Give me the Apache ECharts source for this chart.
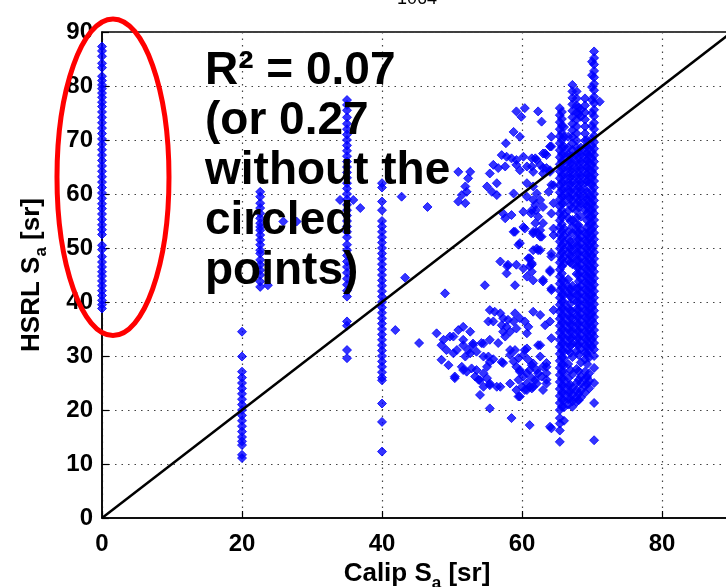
<!DOCTYPE html>
<html>
<head>
<meta charset="utf-8">
<script src="https://cdn.jsdelivr.net/npm/echarts@6/dist/echarts.min.js"></script>
<style>
  html, body { margin: 0; padding: 0; background: #fff; }
  #chart { width: 726px; height: 587px; }
</style>
</head>
<body>
<div id="chart"></div>
<script>
// columns of points (x fixed, y listed)
var col0Y = [87.3, 86.5, 85.5, 84.2, 83.4, 81.8, 81, 80.2, 79.5, 78.7, 77.9, 77, 76.2, 75.2, 74.2, 73.2, 72.2,
  71.2, 70.2, 69.2, 68.2, 67.2, 66.2, 65.2, 64.2, 63.2, 62.2, 61.2, 60.2, 59.2, 58.2, 57.3, 56.3, 55.3, 54.3,
  53.4, 52.5, 50.5, 49.7, 48.4, 47.4, 46.5, 45.6, 44.8, 43.9, 43, 42.1, 41.2, 40.3, 39.5, 38.8];
var col20Y = [34.5, 29.9, 27.1, 26, 25, 24, 23, 22, 21, 20, 19, 18, 17, 16, 15, 14.2, 13.5, 11.7, 11.1];
var col22Y = [60.4, 59.5, 58.3, 57.4, 56.4, 55.5, 54.6, 53.9, 53.3, 52.4, 51.5, 50.6, 49.6, 49, 47.8, 46.9,
  45.9, 45, 43.8, 42.8];
var col35Y = [77.4, 76.5, 75.5, 74.2, 73, 72, 71, 70, 69, 68, 67, 66, 65, 64, 63, 62, 61, 60, 59, 58, 57, 56,
  55, 54, 53, 52, 50.6, 49.6, 48.6, 47.5, 46.5, 45.4, 44.3, 43.2, 42.1, 41, 36.4, 35.6, 31.1, 29.6];
var col40Y = [62, 61.2, 58.6, 57, 55, 54, 53, 52, 51, 50, 49, 48, 47, 46, 45, 44, 43, 42, 41, 40, 39, 38, 37,
  36, 35, 34, 33, 32, 31, 30, 29, 28, 27, 26, 25.5, 21.2, 17.8, 12.3];

// the dense band between 65 and 70
var bandX = [65.4, 66.0, 66.6, 67.2, 67.8, 68.4, 69.0, 69.6, 70.3, 65.7, 66.9, 68.1, 69.3, 70.0];
var bandY = [
  [75.9, 74.6, 73.3, 72, 70.7, 69.4, 68.1, 66.8, 65.5, 64.2, 62.9, 61.6, 60.3, 59, 57.7, 56.4, 55.1, 53.8, 52.5,
    51.2, 49.9, 48.6, 47.3, 46, 44.7, 43.4, 42.1, 40.8, 39.5, 38.2, 36.9, 35.6, 34.3, 33, 31.7, 30.4, 29.1,
    27.8, 26.5, 25.2, 23.9, 22.6, 21.3, 20, 18.5, 17.5, 16.2, 14.1],
  [72.4, 70.6, 68.8, 67.5, 66.2, 64.9, 63.6, 62.3, 61, 59.7, 58.4, 56.2, 53.6, 52.3, 51, 49.7, 48.4, 47.1,
    43.9, 42.6, 41.3, 40, 38.7, 37.4, 36.1, 34.8, 33.5, 32.2, 30.9, 29.6, 28.3, 27, 25.7, 24.4, 23.1, 21.8,
    20.5, 18],
  [70.6, 68.6, 67.3, 66, 64.7, 63.4, 62.1, 60.8, 59.5, 56.9, 55.6, 53, 51.7, 50.4, 49.1, 47.8, 44.2, 42.9,
    41.6, 38.9, 37.6, 36.3, 35, 33.7, 32.4, 31.1, 28.5, 25.9, 24.6, 23.3, 22, 21],
  [80.2, 79, 77.8, 76.6, 75.4, 74.2, 73, 71.8, 70.6, 69.4, 68.2, 67, 65.8, 64.6, 63.4, 62.2, 61, 59.8, 58.6,
    57.4, 55.2, 54, 52.8, 50.6, 49.4, 48.2, 47, 43, 41.8, 40.6, 38.2, 37, 35.8, 34.6, 33.4, 32.2, 29.8, 26.6,
    24, 22.8, 21.6, 20.6],
  [79, 77.7, 76.4, 75.1, 73.8, 72.5, 71.2, 69.9, 68.6, 67.3, 66, 64.7, 63.4, 62.1, 60.8, 59.5, 58.2, 56.9,
    55.6, 54.3, 53, 51.7, 50.4, 49.1, 47.8, 46.5, 45.2, 42.6, 41.3, 40, 38.7, 37.4, 36.1, 34.8, 33.5, 32.2,
    30.9, 27.6, 25, 23.7, 22.4, 21.5],
  [75.6, 74.3, 68.6, 67.3, 66, 64.7, 63.4, 62.1, 60.8, 59.5, 58.2, 55.8, 53.4, 52.1, 50.8, 49.5, 48.2, 46.9,
    45.6, 44.3, 43, 41.7, 40.4, 39.1, 37.8, 36.5, 35.2, 33.9, 32.6, 31.3, 28.8, 26.2, 24.9, 23.6, 22.3],
  [77.7, 76.4, 75.1, 73.8, 72.5, 71.2, 69.9, 68.6, 67.3, 66, 64.7, 63.4, 62.1, 60.8, 59.5, 58.2, 57, 52.8,
    51.5, 50.2, 48.9, 47.6, 46.3, 45, 43.7, 42.4, 41.1, 39.8, 38.5, 37.2, 35.9, 34.6, 33.3, 32, 30.7, 29.4,
    27.1, 25.8, 24.5, 23.2],
  [68.4, 67.1, 65.8, 64.5, 63.2, 62, 59.6, 58.3, 57, 55.7, 54.4, 53.1, 51.8, 50.5, 49.2, 47.9, 46.6, 45.3, 44,
    42.7, 41.4, 40.1, 38.8, 37.5, 36.2, 34.9, 33.6, 32.3, 31, 29.7, 26.8, 25.4, 24],
  [86.4, 85.2, 84, 82.8, 81.6, 80.4, 79.2, 78, 76.8, 75.6, 74.4, 73.2, 72, 70.8, 69.6, 68.4, 67.2, 66, 64.8,
    63.6, 62.4, 61.2, 60, 58.8, 57.6, 56.4, 55.2, 54, 52.8, 51.6, 50.4, 49.2, 48, 46.8, 45.6, 44.4, 43.2, 42,
    40.8, 39.6, 38.4, 37.2, 36, 34.8, 33.6, 32.4, 31.2, 30, 27.8, 25, 21.3, 14.4],
  [75.2, 73.9, 72.6, 71.3, 70, 68.7, 67.4, 66.1, 64.8, 63.5, 62.2, 60.9, 59.6, 58.3, 57, 55.7, 54.4, 53.1,
    51.8, 50.5, 49.2, 47.9, 46.6, 45.3, 44, 42.7, 41.4, 40.1, 38.8, 37.5, 36.2, 34.9, 33.6, 32.3, 31, 29.7,
    28.4, 27.1, 25.8, 24.5, 23.2, 21.9, 20.6],
  [67, 65.7, 64.4, 63.1, 61.8, 60.5, 59.2, 57.9, 55, 51.2, 49.9, 48.6, 47.3, 42.3, 41, 39.7, 38.4, 37.1, 35.8,
    34.5, 33.2, 31.9, 30.6, 27.4, 24.7, 23.4, 22.1],
  [76, 74.8, 67.9, 66.6, 65.3, 64, 62.7, 61.4, 60.1, 58.8, 57.5, 54.2, 52.9, 51.6, 50.3, 49, 47.7, 46.4, 45.1,
    43.8, 42.5, 41.2, 39.9, 38.6, 37.3, 36, 34.7, 33.4, 32.1, 30.2, 27.2, 25.6, 23, 21.8],
  [70, 68.8, 67.5, 66.2, 64.9, 63.6, 62.3, 60.4, 59, 57.7, 56.4, 55.1, 53.8, 52.5, 51.2, 49.9, 48.6, 47.3, 46,
    44.7, 43.4, 42.1, 40.8, 39.5, 38.2, 36.9, 35.6, 34.3, 33, 31.7, 30.4, 28.5, 26.1, 24.8],
  [84.5, 82, 79.8, 77.4, 75, 72.6, 70.2, 69, 67.8, 66.6, 65.4, 64.2, 63, 61.8, 60.6, 59.4, 58.2, 57, 55.8, 54.6,
    53.4, 52.2, 51, 49.8, 48.6, 47.4, 46.2, 45, 43.8, 42.6, 41.4, 40.2, 39, 37.8, 36.6, 35.4, 34.2, 33, 31.8]
];

// scattered points
var cloudPts = [
  [41.9, 34.8], [45.3, 32.4], [43.3, 44.5], [42.8, 59.5], [46.5, 57.6], [49.0, 41.6], [47.8, 34.2],
  [48.8, 33.0], [49.7, 33.6], [48.5, 32.0], [49.2, 31.1], [48.5, 29.3], [49.5, 28.3],
  [23.7, 43.1], [25.9, 54.9], [27.8, 54.9], [34.0, 58.9], [35.9, 58.9], [36.9, 57.4],
  [50.9, 64.1], [52.6, 64.1], [52.3, 62.9], [51.9, 61.4], [52.1, 60.4], [51.4, 59.8], [50.9, 58.6], [51.9, 58.3],
  [55.4, 63.8], [56.4, 62.0], [55.0, 61.4], [55.7, 60.4], [56.4, 59.8], [58.8, 60.1], [60.7, 62.0], [61.6, 61.4],
  [62.1, 60.1], [62.6, 58.9], [63.0, 57.6], [61.9, 58.0], [61.4, 57.0], [60.2, 56.7], [62.3, 55.8], [63.0, 54.6],
  [61.6, 53.0], [62.8, 52.1], [57.6, 55.5], [59.0, 53.0], [60.4, 53.6], [59.5, 50.6], [62.1, 49.9], [64.2, 49.0],
  [64.5, 53.6], [57.1, 67.2], [57.8, 66.9], [58.5, 66.6], [59.2, 66.3], [60.2, 66.9], [61.4, 66.6], [62.1, 66.3],
  [63.0, 67.5], [63.5, 67.2], [55.9, 65.4], [56.6, 64.8], [57.6, 65.1], [59.2, 65.4], [59.7, 64.4], [60.7, 65.1],
  [61.6, 64.1], [62.6, 65.4], [63.5, 64.8], [63.0, 63.8], [57.7, 69.4], [64.2, 68.8], [60.4, 75.9], [59.2, 75.3],
  [59.9, 74.3], [62.3, 75.3], [62.8, 73.4], [58.8, 71.5], [59.7, 70.6], [64.2, 70.6], [64.0, 68.8], [63.3, 67.5],
  [61.9, 66.6], [61.4, 65.1], [63.0, 64.8], [64.0, 64.1], [64.2, 61.7], [63.8, 60.4], [64.5, 58.3], [64.2, 56.4],
  [61.9, 54.6], [62.6, 53.3], [61.6, 52.7], [64.5, 52.4], [62.6, 49.6], [64.2, 48.4], [64.0, 64.4], [64.5, 61.6],
  [58.8, 53.0], [62.1, 53.0], [60.2, 53.9], [58.5, 56.1], [57.3, 56.4], [61.3, 56.4], [62.0, 57.0], [61.6, 58.9],
  [60.7, 59.5], [59.7, 50.9], [62.6, 52.1], [61.6, 49.6], [61.1, 48.1],
  [56.9, 47.5], [58.0, 46.9], [59.2, 46.9], [57.8, 45.3], [60.2, 46.2], [60.9, 48.1], [61.4, 46.9], [60.7, 44.7],
  [62.3, 49.6], [63.0, 44.1], [64.2, 42.5], [59.0, 43.1], [54.7, 43.1], [61.4, 47.2], [61.4, 45.6], [64.0, 45.6],
  [63.0, 43.8], [61.6, 44.0], [64.0, 45.9], [64.2, 42.2], [57.9, 46.6], [61.1, 46.6],
  [55.4, 38.5], [56.1, 38.2], [56.9, 37.9], [55.2, 36.4], [55.9, 36.4], [57.3, 37.0], [58.0, 36.7], [59.0, 37.9],
  [58.8, 36.4], [59.7, 37.0], [60.4, 36.4], [61.6, 38.2], [62.6, 37.6], [60.9, 35.4], [57.8, 35.4], [58.3, 34.5],
  [57.1, 35.7], [59.2, 35.1], [60.7, 34.2], [50.9, 34.8], [51.6, 35.4], [52.6, 34.5], [51.6, 32.0], [52.3, 31.1],
  [51.9, 29.9], [53.0, 32.0], [50.2, 30.5], [54.2, 32.4], [55.4, 33.0], [56.6, 32.4], [57.6, 33.6], [58.3, 31.1],
  [59.0, 31.1], [57.1, 28.9], [58.3, 30.2], [59.5, 29.6], [60.2, 30.2], [60.7, 31.4], [60.9, 29.3], [61.6, 28.6],
  [62.6, 32.0], [63.5, 28.0], [50.4, 26.2], [51.4, 28.0], [52.1, 27.1], [52.8, 27.7], [53.3, 26.2], [53.8, 25.6],
  [54.5, 26.8], [55.0, 25.9], [55.4, 24.6], [54.5, 24.3], [54.0, 22.8], [56.4, 24.3], [55.2, 29.9], [55.4, 28.9],
  [55.0, 28.0], [59.2, 28.0], [59.7, 27.1], [60.2, 26.2], [59.5, 25.6], [60.0, 24.3], [59.2, 23.7], [59.5, 22.5],
  [60.7, 26.8], [61.4, 25.9], [62.1, 24.9], [61.4, 24.0], [60.4, 23.7], [63.5, 25.6], [55.4, 20.3], [58.5, 18.5],
  [61.1, 17.2], [64.0, 16.9], [64.5, 38.5], [64.0, 36.4], [63.3, 35.7], [64.2, 33.3], [61.4, 28.3], [62.1, 27.4],
  [63.0, 28.0], [63.5, 26.8], [61.9, 25.6], [62.8, 26.2], [61.1, 24.3], [64.2, 16.6], [50.2, 33.6], [51.6, 33.0],
  [50.7, 31.1], [50.4, 25.9], [51.6, 27.4], [57.3, 34.5], [54.5, 32.3], [53.0, 32.3], [52.6, 30.5], [53.5, 30.8],
  [54.5, 29.9], [55.9, 29.4], [57.3, 28.7], [58.8, 29.0], [60.4, 31.1], [62.3, 32.0], [62.6, 29.9], [63.5, 28.7],
  [59.7, 27.4], [61.1, 27.4], [62.3, 26.8], [63.5, 24.9], [61.6, 24.3], [60.7, 24.9], [59.7, 22.5], [58.3, 24.9],
  [56.9, 24.3], [55.4, 24.9], [54.0, 25.5], [53.5, 27.4], [60.7, 23.7], [63.0, 23.7], [71.1, 77.1]
];

var oneToOne = [0, 90];
var xTicks = { min: 0, max: 90, step: 20 };
var yTicks = { min: 0, max: 90, step: 10 };

var chart = echarts.init(document.getElementById('chart'));

function column(x, ys) {
  return ys.map(function (y) { return [x, y]; });
}

var points = [];
points = points.concat(column(0, col0Y), column(20, col20Y), column(22.6, col22Y),
  column(35, col35Y), column(40, col40Y));
for (var i = 0; i < bandX.length; i++) {
  points = points.concat(column(bandX[i], bandY[i]));
}
points = points.concat(cloudPts);

var tickFont = {
  color: '#000',
  fontFamily: '"Liberation Sans", Arial, sans-serif',
  fontWeight: 'bold',
  fontSize: 24
};
var nameRich = {
  m: { fontFamily: '"Liberation Sans", Arial, sans-serif', fontWeight: 'bold', fontSize: 26, color: '#000', lineHeight: 36, verticalAlign: 'middle' },
  s: { fontFamily: '"Liberation Sans", Arial, sans-serif', fontWeight: 'bold', fontSize: 17, color: '#000', lineHeight: 16, verticalAlign: 'bottom' }
};
var dots = { color: '#444', width: 1.2, type: [1.5, 5] };

var option = {
  animation: false,
  grid: {
    left: 102, top: 32, right: -6, bottom: 69,
    containLabel: false,
    outerBoundsMode: 'none',
    show: true, borderColor: '#000', borderWidth: 1.5, backgroundColor: 'transparent'
  },
  xAxis: {
    type: 'value',
    min: xTicks.min, max: xTicks.max, interval: xTicks.step,
    name: '{m|Calip S}{s|a}{m| [sr]}',
    nameLocation: 'middle', nameGap: 31,
    nameTextStyle: { rich: nameRich },
    axisLine: { lineStyle: { color: '#000', width: 1.5 } },
    axisTick: { inside: true, length: 7, lineStyle: { color: '#000', width: 1.2 } },
    axisLabel: Object.assign({ margin: 14, showMaxLabel: false }, tickFont),
    splitLine: { show: true, lineStyle: dots }
  },
  yAxis: {
    type: 'value',
    min: yTicks.min, max: yTicks.max, interval: yTicks.step,
    name: '{m|HSRL S}{s|a}{m| [sr]}',
    nameLocation: 'middle', nameGap: 52, nameRotate: 90,
    nameTextStyle: { rich: nameRich },
    axisLine: { lineStyle: { color: '#000', width: 1.5 } },
    axisTick: { inside: true, length: 7, lineStyle: { color: '#000', width: 1.2 } },
    axisLabel: Object.assign({ margin: 9 }, tickFont),
    splitLine: { show: true, lineStyle: dots }
  },
  series: [{
    type: 'scatter',
    data: points,
    symbol: 'diamond',
    symbolSize: 9,
    clip: false,
    itemStyle: { color: '#0000ff', borderColor: '#0000ff', borderWidth: 1 },
    z: 2
  }, {
    type: 'line',
    data: [[oneToOne[0], oneToOne[0]], [oneToOne[1], oneToOne[1]]],
    showSymbol: false,
    symbol: 'none',
    lineStyle: { color: '#000', width: 2.5 },
    z: 3
  }]
};
chart.setOption(option);

// ellipse around the x = 0 points, placed in data space
var c = chart.convertToPixel({ gridIndex: 0 }, [1.57, 63.1]);
var e = chart.convertToPixel({ gridIndex: 0 }, [1.57 + 8, 63.1 + 29.3]);
chart.setOption({
  graphic: [{
    type: 'ellipse',
    z: 100,
    shape: { cx: c[0], cy: c[1], rx: e[0] - c[0], ry: c[1] - e[1] },
    style: { fill: 'none', stroke: '#ff0000', lineWidth: 5 }
  }, {
    type: 'text',
    z: 100,
    left: 205, top: 46,
    style: {
      text: 'R² = 0.07\n(or 0.27\nwithout the\ncircled\npoints)',
      fontFamily: '"Liberation Sans", Arial, sans-serif',
      fontWeight: 'bold',
      fontSize: 46,
      lineHeight: 50,
      fill: '#000'
    }
  }, {
    type: 'text',
    z: 100,
    x: 417, y: 8,
    style: {
      text: '1064',
      fontFamily: '"Liberation Sans", Arial, sans-serif',
      fontSize: 18,
      fill: '#000',
      align: 'center',
      verticalAlign: 'bottom'
    }
  }]
});
</script>
</body>
</html>
